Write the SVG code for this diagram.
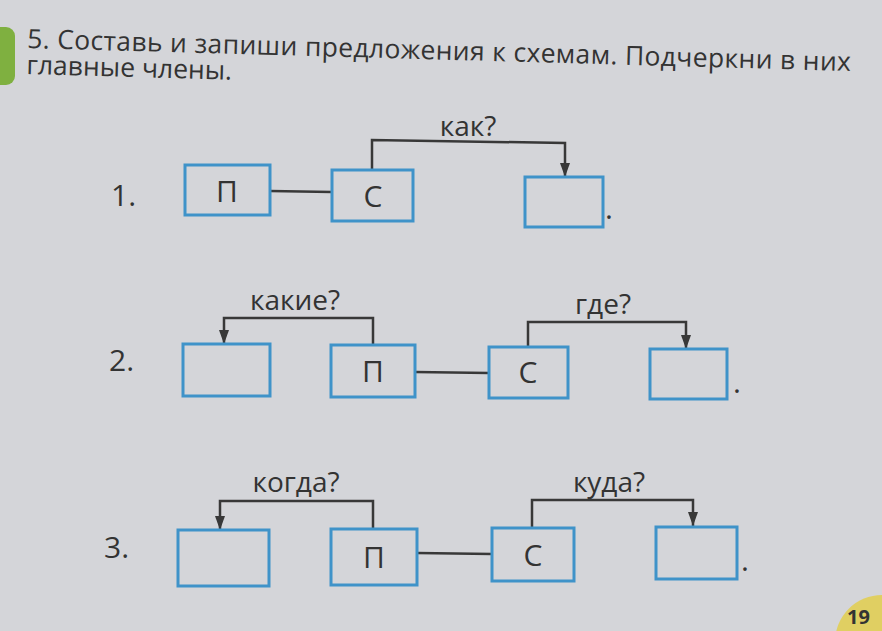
<svg xmlns="http://www.w3.org/2000/svg" width="882" height="631" viewBox="0 0 882 631">
  <style>
    .box { fill: none; stroke: #3f93c9; stroke-width: 3; }
    .conn { fill: none; stroke: #383838; stroke-width: 2.5; }
    .t { font-family: "Open Sans", "Noto Sans", "DejaVu Sans", sans-serif; fill: #333333; }
    .q { font-size: 28px; text-anchor: middle; }
    .bl { font-size: 30px; text-anchor: middle; }
    .num { font-size: 30px; }
    .title { font-size: 26.5px; }
  </style>
  <defs>
    <marker id="arr" viewBox="0 0 14 10" refX="14" refY="5" markerWidth="14" markerHeight="10" markerUnits="userSpaceOnUse" orient="auto">
      <path d="M0,0 L14,5 L0,10 z" fill="#383838"/>
    </marker>
  </defs>

  <rect x="0" y="0" width="882" height="631" fill="#d4d5d9"/>
  <rect x="-12" y="27" width="27" height="58" rx="9" fill="#7fb040"/>
  <circle cx="882" cy="642" r="47" fill="#e0cf62"/>
  <text class="t" x="847" y="624" font-size="20" font-weight="bold" fill="#1a1a1a">19</text>

  <g id="title" transform="rotate(1.6 27 48)">
    <text class="t title" x="27" y="48" textLength="824" lengthAdjust="spacing">5. Составь и запиши предложения к схемам. Подчеркни в них</text>
    <text class="t title" x="27" y="74">главные члены.</text>
  </g>

  <g id="connectors">
    <line class="conn" x1="270" y1="191" x2="332" y2="192"/>
    <path class="conn" d="M372,170 L372,140 L565,143 L565,177" marker-end="url(#arr)"/>
    <line class="conn" x1="415" y1="372" x2="489" y2="373"/>
    <path class="conn" d="M373,345 L373,318 L224,318 L224,344" marker-end="url(#arr)"/>
    <path class="conn" d="M528,347 L528,322 L686,322 L686,349" marker-end="url(#arr)"/>
    <line class="conn" x1="417" y1="553" x2="492" y2="554"/>
    <path class="conn" d="M373,529 L373,501 L220,501 L220,530" marker-end="url(#arr)"/>
    <path class="conn" d="M532,528 L532,500 L693,500 L693,526" marker-end="url(#arr)"/>
  </g>

  <g id="row1">
    <text class="t num" x="111" y="206">1.</text>
    <g id="r1-p"><rect class="box" x="185" y="165" width="85" height="50"/><text class="t bl" x="227" y="202">П</text></g>
    <g id="r1-s"><rect class="box" x="332" y="170" width="81" height="51"/><text class="t bl" x="373" y="207">С</text></g>
    <g id="r1-e"><rect class="box" x="525" y="177" width="78" height="50"/></g>
    <text class="t bl" x="609" y="219">.</text>
    <text class="t q" x="468" y="136">как?</text>
  </g>

  <g id="row2">
    <text class="t num" x="109" y="371">2.</text>
    <g id="r2-a"><rect class="box" x="183" y="344" width="87" height="52"/></g>
    <g id="r2-p"><rect class="box" x="331" y="345" width="84" height="52"/><text class="t bl" x="373" y="382">П</text></g>
    <g id="r2-s"><rect class="box" x="489" y="347" width="79" height="51"/><text class="t bl" x="528" y="383">С</text></g>
    <g id="r2-e"><rect class="box" x="650" y="349" width="77" height="50"/></g>
    <text class="t bl" x="737" y="393">.</text>
    <text class="t q" x="295" y="310">какие?</text>
    <text class="t q" x="603" y="314">где?</text>
  </g>

  <g id="row3">
    <text class="t num" x="104" y="558">3.</text>
    <g id="r3-a"><rect class="box" x="178" y="530" width="91" height="56"/></g>
    <g id="r3-p"><rect class="box" x="331" y="529" width="86" height="56"/><text class="t bl" x="374" y="568">П</text></g>
    <g id="r3-s"><rect class="box" x="492" y="528" width="82" height="53"/><text class="t bl" x="533" y="566">С</text></g>
    <g id="r3-e"><rect class="box" x="656" y="527" width="81" height="52"/></g>
    <text class="t bl" x="745" y="571">.</text>
    <text class="t q" x="296" y="492" font-size="30">когда?</text>
    <text class="t q" x="609" y="492">куда?</text>
  </g>
</svg>
